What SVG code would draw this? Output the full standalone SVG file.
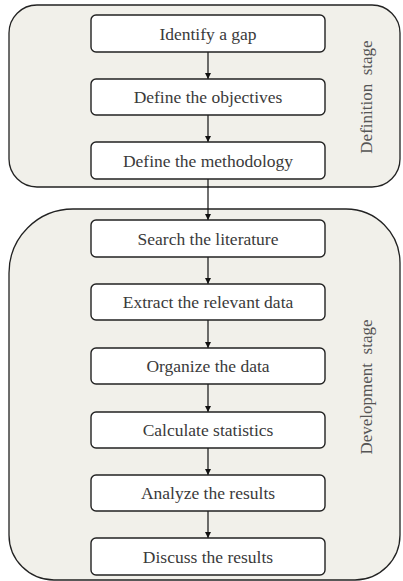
<svg xmlns="http://www.w3.org/2000/svg" width="403" height="581" viewBox="0 0 403 581">
<style>
.stage{fill:#f1f0ea;stroke:#222;stroke-width:1.3}
.box{fill:#fff;stroke:#222;stroke-width:1.4}
.t{font-family:"Liberation Serif",serif;font-size:17.5px;fill:#3a3a3a;text-anchor:middle;dominant-baseline:central}
.st{font-family:"Liberation Serif",serif;font-size:17px;fill:#555;text-anchor:middle;dominant-baseline:central;white-space:pre}
.c{stroke:#111;stroke-width:1.2;fill:none;marker-end:url(#ah)}
</style>
<defs>
<marker id="ah" viewBox="0 0 6 6" refX="6" refY="3" markerWidth="6" markerHeight="6" markerUnits="userSpaceOnUse" orient="auto">
<path d="M0,0 L6,3 L0,6 Z" fill="#111"/>
</marker>
</defs>
<g id="definition-stage">
<rect class="stage" x="9" y="5" width="391" height="182" rx="28"/>
<text class="st" xml:space="preserve" transform="translate(366,97) rotate(-90)">Definition  stage</text>
</g>
<g id="development-stage">
<path class="stage" d="M73,209 L346,209 A54,54 0 0 1 400,263 L400,535 A45,45 0 0 1 355,580 L54,580 A45,45 0 0 1 9,535 L9,273 A64,64 0 0 1 73,209 Z"/>
<text class="st" xml:space="preserve" transform="translate(366,387) rotate(-90)">Development  stage</text>
</g>
<g id="connectors">
<line class="c" x1="208" y1="52" x2="208" y2="79"/>
<line class="c" x1="208" y1="115" x2="208" y2="142"/>
<line class="c" x1="208" y1="179" x2="208" y2="220"/>
<line class="c" x1="208" y1="257" x2="208" y2="284"/>
<line class="c" x1="208" y1="320" x2="208" y2="348"/>
<line class="c" x1="208" y1="384" x2="208" y2="412"/>
<line class="c" x1="208" y1="448" x2="208" y2="475"/>
<line class="c" x1="208" y1="511" x2="208" y2="538"/>
</g>
<g id="n1"><rect class="box" x="91" y="15" width="234" height="37" rx="5"/><text class="t" x="208" y="33.5">Identify a gap</text></g>
<g id="n2"><rect class="box" x="91" y="79" width="234" height="36" rx="5"/><text class="t" x="208" y="97">Define the objectives</text></g>
<g id="n3"><rect class="box" x="91" y="142" width="234" height="37" rx="5"/><text class="t" x="208" y="160.5">Define the methodology</text></g>
<g id="n4"><rect class="box" x="91" y="220" width="234" height="37" rx="5"/><text class="t" x="208" y="238.5">Search the literature</text></g>
<g id="n5"><rect class="box" x="91" y="284" width="234" height="36" rx="5"/><text class="t" x="208" y="302">Extract the relevant data</text></g>
<g id="n6"><rect class="box" x="91" y="348" width="234" height="36" rx="5"/><text class="t" x="208" y="366">Organize the data</text></g>
<g id="n7"><rect class="box" x="91" y="412" width="234" height="36" rx="5"/><text class="t" x="208" y="430">Calculate statistics</text></g>
<g id="n8"><rect class="box" x="91" y="475" width="234" height="36" rx="5"/><text class="t" x="208" y="493">Analyze the results</text></g>
<g id="n9"><rect class="box" x="91" y="538" width="234" height="37" rx="5"/><text class="t" x="208" y="556.5">Discuss the results</text></g>
</svg>
